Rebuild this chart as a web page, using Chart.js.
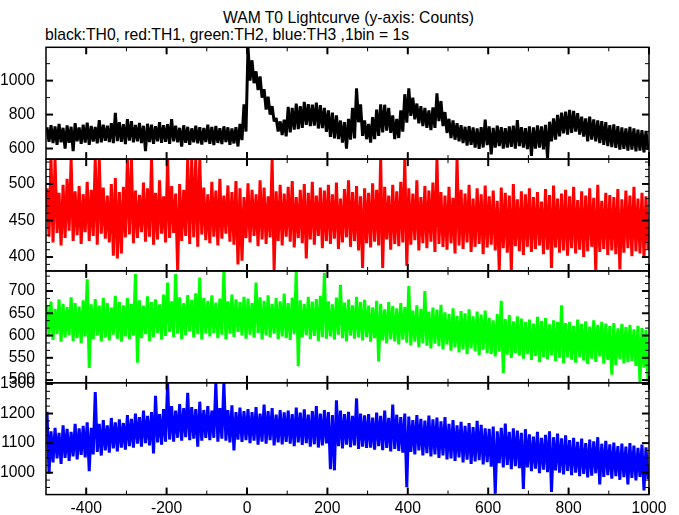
<!DOCTYPE html>
<html>
<head>
<meta charset="utf-8">
<title>WAM T0 Lightcurve</title>
<script src="https://cdn.jsdelivr.net/npm/chart.js@4.4.1/dist/chart.umd.min.js"></script>
<style>
  body { margin: 0; background: #fff; }
  #caja { position: relative; width: 679px; height: 515px; font-family: "Liberation Sans", Arial, sans-serif; font-size: 15.7px; line-height: 18px; color: #000; }
  #titulo { position: absolute; left: 0; top: 9px; width: 697px; text-align: center; white-space: nowrap; }
  #subtitulo { position: absolute; left: 45px; top: 26px; white-space: nowrap; }
  #grafica { position: absolute; left: 0; top: 0; }
</style>
</head>
<body>
<div id="caja">
  <div id="titulo">WAM T0 Lightcurve (y-axis: Counts)</div>
  <div id="subtitulo">black:TH0, red:TH1, green:TH2, blue:TH3 ,1bin = 1s</div>
  <canvas id="grafica" width="679" height="515"></canvas>
</div>
<script>
/*************************************** DATOS ***************************************/
// bins de 10 s desde -500 s; para cada bin el maximo y el minimo que se ven en la curva
const FIRST_BIN = -500;
const BIN_SEC = 10;

const timeTicks = [-400, -200, 0, 200, 400, 600, 800, 1000];

const th0Ticks = [600, 800, 1000];
const th1Ticks = [400, 450, 500];
const th2Ticks = [500, 550, 600, 650, 700];
const th3Ticks = [1000, 1100, 1200, 1300];

const th0Range = [537.6, 1196.4];
const th1Range = [381, 534];
const th2Range = [494, 745];
const th3Range = [926, 1304];

const th0Hi = [
  725, 738, 730, 745, 722, 736, 728, 750, 724, 740,
  752, 733, 727, 768, 741, 735, 750, 810, 756, 744,
  773, 762, 739, 751, 734, 746, 740, 732, 755, 738,
  744, 773, 735, 722, 737, 728, 719, 734, 726, 721,
  740, 727, 733, 720, 731, 725, 718, 726, 745, 860,
  1196, 1120, 1055, 1025, 950, 905, 850, 780, 760, 770,
  845, 840, 865, 850, 875, 862, 858, 870, 855, 840,
  825, 812, 795, 765, 755, 775, 840, 955, 860, 765,
  745, 785, 830, 860, 858, 840, 795, 775, 825, 920,
  955, 900, 865, 850, 840, 825, 842, 925, 880, 815,
  775, 765, 750, 738, 728, 732, 725, 718, 726, 770,
  730, 722, 735, 726, 720, 730, 735, 768, 726, 720,
  730, 725, 736, 730, 740, 758, 778, 798, 812, 818,
  828, 822, 808, 788, 778, 788, 772, 766, 762, 756,
  738, 742, 732, 724, 718, 728, 718, 712, 708, 704
];
const th0Lo = [
  640, 632, 622, 636, 600, 634, 585, 642, 628, 635,
  622, 641, 630, 636, 645, 638, 632, 644, 640, 626,
  646, 636, 642, 632, 585, 638, 627, 643, 633, 640,
  628, 642, 636, 612, 634, 622, 637, 630, 624, 638,
  628, 620, 633, 626, 638, 622, 630, 612, 650, 700,
  1000, 985, 945, 900, 830, 800, 760, 700, 680, 672,
  695, 712, 715, 722, 740, 732, 735, 718, 720, 698,
  668, 660, 655, 635, 600, 652, 660, 755, 675, 655,
  635, 655, 675, 695, 705, 692, 655, 662, 700, 752,
  792, 772, 748, 732, 722, 708, 722, 762, 732, 692,
  662, 652, 642, 632, 618, 622, 605, 598, 606, 620,
  565, 605, 614, 600, 606, 610, 600, 614, 605, 596,
  556, 600, 606, 595, 545, 642, 652, 672, 690, 682,
  692, 700, 682, 670, 642, 652, 642, 632, 622, 614,
  608, 604, 594, 598, 588, 594, 584, 588, 578, 592
];

const th1Hi = [
  494, 534, 534, 488, 499, 507, 534, 490, 497, 486,
  503, 492, 534, 534, 495, 484, 500, 508, 489, 496,
  534, 534, 491, 485, 502, 494, 534, 488, 505, 483,
  534, 497, 487, 500, 492, 534, 534, 534, 534, 495,
  486, 503, 491, 507, 484, 498, 489, 504, 494, 482,
  501, 492, 486, 505, 495, 483, 534, 490, 499, 487,
  496, 504, 482, 492, 500, 488, 503, 484, 495, 491,
  499, 486, 502, 480, 493, 505, 489, 497, 483, 494,
  488, 501, 492, 534, 496, 484, 499, 490, 503, 534,
  494, 487, 505, 482, 497, 491, 502, 534, 489, 484,
  496, 481, 534, 492, 487, 499, 480, 494, 486, 498,
  483, 491, 477, 495, 488, 484, 500, 479, 490, 486,
  494, 482, 489, 476, 493, 485, 498, 480, 487, 492,
  483, 496, 478, 490, 484, 494, 481, 499, 477, 488,
  485, 482, 493, 479, 491, 484, 496, 480, 488, 483
];
const th1Lo = [
  428, 420, 433, 416, 426, 436, 422, 430, 418, 434,
  422, 429, 417, 432, 425, 420, 402, 398, 405, 427,
  431, 419, 426, 434, 421, 428, 417, 424, 432, 420,
  426, 433, 381, 422, 429, 418, 427, 414, 431, 423,
  419, 428, 416, 425, 432, 421, 417, 390, 395, 426,
  420, 429, 415, 424, 418, 427, 381, 422, 416, 428,
  421, 413, 426, 419, 398, 424, 417, 429, 412, 422,
  418, 425, 411, 420, 427, 414, 422, 409, 385, 419,
  413, 421, 416, 385, 424, 410, 418, 415, 420, 388,
  417, 423, 409, 419, 412, 421, 407, 418, 414, 410,
  419, 405, 416, 411, 420, 407, 414, 418, 404, 413,
  417, 409, 381, 412, 406, 381, 415, 408, 403, 414,
  407, 411, 416, 404, 410, 385, 413, 406, 409, 402,
  412, 405, 410, 400, 408, 414, 381, 407, 411, 403,
  409, 404, 383, 406, 412, 401, 408, 405, 399, 410
];

const th2Hi = [
  668, 676, 660, 681, 671, 664, 686, 673, 665, 679,
  726, 670, 682, 667, 684, 673, 663, 689, 675, 668,
  684, 671, 738, 679, 667, 688, 675, 681, 670, 692,
  719, 677, 738, 686, 673, 691, 680, 695, 730, 684,
  678, 690, 674, 683, 745, 677, 692, 681, 675, 687,
  683, 673, 719, 686, 678, 690, 671, 684, 677, 694,
  673, 685, 745, 679, 671, 687, 676, 682, 689, 741,
  677, 670, 685, 714, 674, 681, 668, 687, 675, 680,
  667, 663, 678, 671, 659, 675, 666, 661, 673, 664,
  711, 656, 668, 660, 700, 654, 663, 658, 669, 652,
  648, 661, 644, 655, 650, 659, 643, 654, 647, 656,
  640, 634, 648, 678, 637, 646, 632, 643, 638, 630,
  636, 627, 642, 633, 639, 625, 634, 631, 668, 628,
  630, 622, 636, 626, 632, 620, 634, 624, 631, 627,
  621, 628, 616, 626, 619, 624, 614, 622, 617, 613
];
const th2Lo = [
  598, 590, 603, 586, 596, 601, 588, 594, 583, 598,
  527, 592, 600, 587, 595, 589, 602, 593, 586, 598,
  592, 600, 539, 594, 603, 588, 597, 606, 591, 599,
  608, 597, 604, 592, 601, 609, 596, 603, 591, 605,
  598, 606, 594, 602, 591, 604, 597, 608, 600, 593,
  602, 595, 606, 591, 600, 596, 604, 592, 598, 594,
  590, 603, 531, 596, 601, 592, 599, 588, 597, 593,
  598, 591, 602, 594, 587, 600, 593, 596, 589, 597,
  586, 594, 542, 589, 583, 592, 587, 580, 591, 584,
  578, 586, 574, 583, 577, 571, 582, 576, 569, 580,
  566, 574, 562, 569, 558, 571, 565, 556, 568, 561,
  559, 553, 564, 516, 557, 550, 561, 555, 548, 558,
  545, 554, 540, 552, 547, 556, 543, 550, 538, 551,
  546, 539, 552, 544, 536, 548, 541, 553, 537, 545,
  512, 534, 547, 538, 540, 543, 532, 494, 528, 497
];

const th3Hi = [
  1206, 1140, 1152, 1135, 1160, 1148, 1138, 1165, 1150, 1158,
  1170, 1152, 1273, 1165, 1178, 1160, 1185, 1170, 1180, 1168,
  1195, 1182, 1200, 1188, 1210, 1192, 1205, 1260, 1198, 1215,
  1304, 1225, 1210, 1232, 1218, 1270, 1222, 1215, 1240, 1212,
  1225, 1210, 1304, 1218, 1304, 1212, 1228, 1205, 1220, 1208,
  1215, 1205, 1222, 1200, 1230, 1208, 1218, 1196, 1212, 1204,
  1210, 1198, 1220, 1203, 1214, 1196, 1208, 1225, 1200, 1212,
  1205, 1195, 1245, 1210, 1198, 1206, 1192, 1251, 1200, 1194,
  1198, 1186, 1203, 1192, 1210, 1185, 1230, 1196, 1188, 1200,
  1190, 1178, 1195, 1182, 1176, 1193, 1180, 1186, 1174, 1188,
  1165, 1178, 1160, 1172, 1158, 1168, 1154, 1175, 1162, 1150,
  1148, 1156, 1140, 1152, 1166, 1138, 1150, 1142, 1135, 1147,
  1130, 1122, 1138, 1118, 1128, 1140, 1120, 1132, 1116, 1126,
  1110, 1118, 1104, 1115, 1100, 1112, 1106, 1120, 1098, 1108,
  1096, 1102, 1090, 1098, 1088, 1100, 1092, 1084, 1095, 1086
];
const th3Lo = [
  997, 1035, 1048, 1030, 1050, 1040, 1055, 1045, 1060, 1052,
  1005, 1062, 1070, 1058, 1075, 1068, 1082, 1072, 1085, 1078,
  1090, 1085, 1098, 1088, 1100, 1092, 1065, 1102, 1095, 1105,
  1112, 1105, 1118, 1108, 1120, 1110, 1115, 1088, 1108, 1118,
  1110, 1118, 1105, 1115, 1108, 1102, 1075, 1112, 1104, 1110,
  1100, 1108, 1095, 1105, 1098, 1110, 1092, 1102, 1096, 1104,
  1098, 1090, 1102, 1094, 1100, 1088, 1096, 1085, 1092, 1099,
  1012, 1008, 1090, 1082, 1095, 1086, 1092, 1080, 1088, 1084,
  1085, 1078, 1090, 1076, 1084, 1072, 1080, 1074, 1068, 951,
  1070, 1062, 1075, 1058, 1066, 1055, 1062, 1050, 1058, 1045,
  1048, 1040, 1052, 1035, 1044, 1030, 1038, 1042, 1028, 1036,
  1020, 929, 1032, 1018, 1026, 1012, 1022, 1015, 945, 1018,
  1005, 1014, 998, 1010, 1002, 935, 1008, 1000, 994, 1006,
  992, 1000, 988, 996, 984, 990, 998, 960, 986, 992,
  980, 988, 976, 985, 960, 982, 974, 986, 940, 978
];

/*************************************** PANELES ***************************************/
const FONT = { family: '"Liberation Sans", Arial, sans-serif', size: 15.7 };

var paneles = [
  { id: 'y0', color: '#000000', hi: th0Hi, lo: th0Lo, rango: th0Range, ticks: th0Ticks, div: 2, peso: 4 },
  { id: 'y1', color: '#ff0000', hi: th1Hi, lo: th1Lo, rango: th1Range, ticks: th1Ticks, div: 5, peso: 3 },
  { id: 'y2', color: '#00ff00', hi: th2Hi, lo: th2Lo, rango: th2Range, ticks: th2Ticks, div: 3, peso: 2 },
  { id: 'y3', color: '#0000ff', hi: th3Hi, lo: th3Lo, rango: th3Range, ticks: th3Ticks, div: 4, peso: 1 }
];

// cada bin se dibuja como su maximo y su minimo, uno tras otro
function serieBins(hi, lo) {
  var pts = [];
  for (var i = 0; i < hi.length; i++) {
    var t = FIRST_BIN + i * BIN_SEC;
    pts.push({ x: t + BIN_SEC * 0.25, y: hi[i] });
    pts.push({ x: t + BIN_SEC * 0.75, y: lo[i] });
  }
  return pts;
}

var datasets = paneles.map(function (p) {
  return {
    data: serieBins(p.hi, p.lo),
    yAxisID: p.id,
    borderColor: p.color,
    borderWidth: 3,
    borderJoinStyle: 'bevel',
    pointRadius: 0,
    tension: 0,
    fill: false
  };
});

function sinComa(v) { return String(v); }

var scales = {
  x: {
    type: 'linear',
    min: -500,
    max: 1000,
    position: 'bottom',
    grid: { display: false, drawTicks: false },
    border: { display: false },
    ticks: { font: FONT, color: '#000', padding: 5, maxRotation: 0, autoSkip: false, callback: sinComa },
    afterBuildTicks: function (s) { s.ticks = timeTicks.map(function (v) { return { value: v }; }); },
    afterFit: function (s) { s.height = 19.3; }
  }
};

paneles.forEach(function (p) {
  scales[p.id] = {
    type: 'linear',
    position: 'left',
    stack: 'curvas',
    stackWeight: 1,
    weight: p.peso,
    min: p.rango[0],
    max: p.rango[1],
    grid: { display: false, drawTicks: false },
    border: { display: false },
    ticks: { font: FONT, color: '#000', padding: 11, autoSkip: false, callback: sinComa },
    afterBuildTicks: function (s) { s.ticks = p.ticks.map(function (v) { return { value: v }; }); },
    afterFit: function (s) { s.width = 46; }
  };
});

//******************* marcos y marcas de cada panel ******************** */
var marcos = {
  id: 'marcos',
  afterDraw: function (chart) {
    var c = chart.ctx, area = chart.chartArea, xs = chart.scales.x;
    function linea(x1, y1, x2, y2) { c.beginPath(); c.moveTo(x1, y1); c.lineTo(x2, y2); c.stroke(); }
    c.save();
    c.strokeStyle = '#000';
    paneles.forEach(function (p) {
      var ys = chart.scales[p.id];
      var arriba = ys.top, abajo = ys.bottom;

      for (var v = -400; v <= 1000; v += 100) {
        var px = xs.getPixelForValue(v);
        var mayor = v % 200 === 0;
        var largo = mayor ? 7 : 4;
        c.lineWidth = mayor ? 2 : 1;
        linea(px, arriba, px, arriba + largo);
        linea(px, abajo, px, abajo - largo);
      }

      var paso = (p.ticks[1] - p.ticks[0]) / p.div;
      for (var k = -30; k <= 60; k++) {
        var val = p.ticks[0] + k * paso;
        if (val < p.rango[0] || val > p.rango[1]) continue;
        var py = ys.getPixelForValue(val);
        var esMayor = k % p.div === 0;
        var l = esMayor ? 7 : 4;
        c.lineWidth = esMayor ? 2 : 1;
        linea(area.left, py, area.left + l, py);
        linea(area.right, py, area.right - l, py);
      }

      c.lineWidth = 1.5;
      c.strokeRect(area.left, arriba, area.right - area.left, abajo - arriba);
    });
    c.restore();
  }
};

var ctx = document.getElementById('grafica').getContext('2d');
var grafica = new Chart(ctx, {
  type: 'line',
  data: { datasets: datasets },
  options: {
    responsive: false,
    animation: false,
    events: [],
    layout: { padding: { top: 47.3, right: 30, left: 0, bottom: 0 } },
    plugins: { legend: { display: false }, tooltip: { enabled: false } },
    scales: scales
  },
  plugins: [marcos]
});
</script>
</body>
</html>
